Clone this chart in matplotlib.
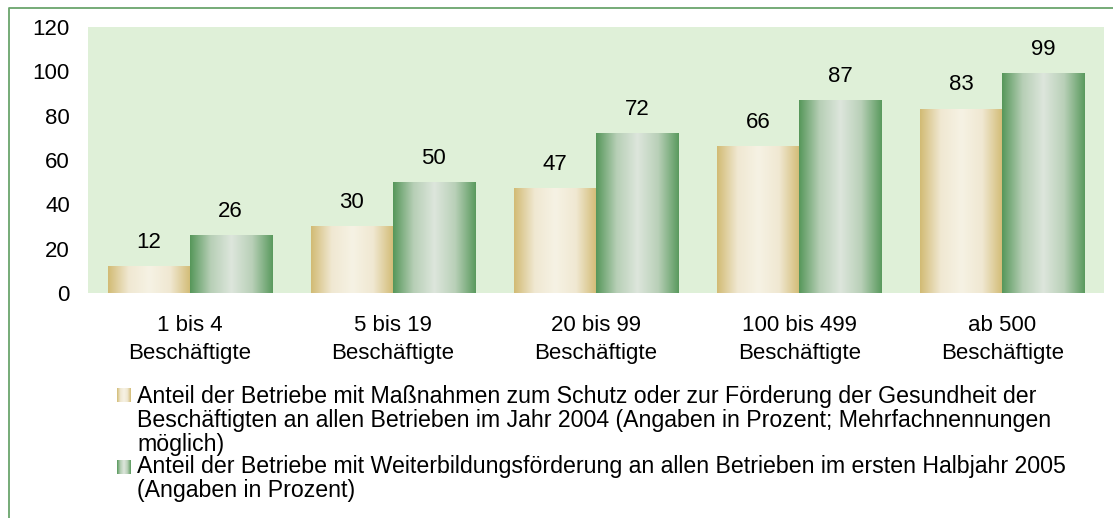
import numpy as np
import matplotlib.pyplot as plt
from matplotlib.colors import LinearSegmentedColormap
from matplotlib.lines import Line2D

plt.rcParams['font.family'] = ['Liberation Sans', 'DejaVu Sans']

kategorien = ['1 bis 4\nBeschäftigte', '5 bis 19\nBeschäftigte', '20 bis 99\nBeschäftigte',
              '100 bis 499\nBeschäftigte', 'ab 500\nBeschäftigte']
gesundheit = [12, 30, 47, 66, 83]
weiterbildung = [26, 50, 72, 87, 99]
legende_1 = ['Anteil der Betriebe mit Maßnahmen zum Schutz oder zur Förderung der Gesundheit der',
             'Beschäftigten an allen Betrieben im Jahr 2004 (Angaben in Prozent; Mehrfachnennungen',
             'möglich)']
legende_2 = ['Anteil der Betriebe mit Weiterbildungsförderung an allen Betrieben im ersten Halbjahr 2005',
             '(Angaben in Prozent)']

W, H = 1113, 518
fig = plt.figure(figsize=(W / 100, H / 100), dpi=100)
fs = 16

# Zylinder-Verlauf: Rand dunkel, Mitte hell
tan_cmap = LinearSegmentedColormap.from_list('tan', ['#d2bb74', '#f0e8d2', '#f6f2e4', '#f0e8d2', '#d2bb74'])
gruen_cmap = LinearSegmentedColormap.from_list('gruen', ['#56975a', '#b7cfb6', '#dde6dc', '#b9d0b8', '#5a9a5e'])
verlauf = np.linspace(0, 1, 256).reshape(1, -1)

ax = fig.add_axes([88 / W, 1 - 293 / H, (1104 - 88) / W, (293 - 27) / H])
ax.set_facecolor('#dff0d8')

x = np.arange(len(kategorien))
breite = 0.404
for serie, cmap, off in [(gesundheit, tan_cmap, -breite / 2), (weiterbildung, gruen_cmap, breite / 2)]:
    bars = ax.bar(x + off, serie, breite, color='none', edgecolor='none')
    for b, v in zip(bars, serie):
        ax.imshow(verlauf, cmap=cmap, aspect='auto', zorder=2,
                  extent=(b.get_x(), b.get_x() + b.get_width(), 0, b.get_height()))
        ax.annotate(str(v), (b.get_x() + b.get_width() / 2, v), xytext=(0, 17.3),
                    textcoords='offset points', ha='center', va='center', fontsize=fs)

ax.set_xlim(-0.5, len(kategorien) - 0.5)
ax.set_ylim(0, 120)
ax.set_yticks(range(0, 121, 20))
ax.set_xticks(x)
ax.set_xticklabels(kategorien, linespacing=1.45)
ax.tick_params(axis='y', length=0, pad=13, labelsize=fs)
ax.tick_params(axis='x', length=0, pad=16, labelsize=fs)
for s in ax.spines.values():
    s.set_visible(False)

# Legende von Hand
for zeilen, cmap, y0, marker_top in [(legende_1, tan_cmap, 403, 388), (legende_2, gruen_cmap, 473, 460)]:
    m = fig.add_axes([117 / W, 1 - (marker_top + 14) / H, 14 / W, 14 / H])
    m.imshow(verlauf, cmap=cmap, aspect='auto')
    m.axis('off')
    for i, z in enumerate(zeilen):
        fig.text(137 / W, 1 - (y0 + 24 * i) / H, z, fontsize=16.7, va='baseline', ha='left')

# Rahmen
rand = '#6aa56c'
fig.add_artist(Line2D([9 / W, 9 / W, 1], [0, 1 - 8 / H, 1 - 8 / H], color=rand, lw=1.3,
                      transform=fig.transFigure))

fig.savefig('out.png', dpi=100)
